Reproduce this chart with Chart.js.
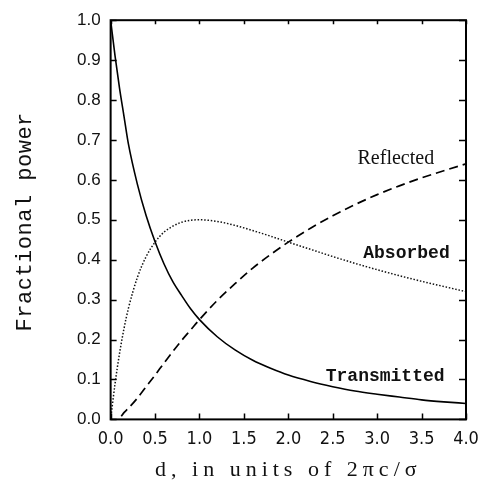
<!DOCTYPE html>
<html>
<head>
<meta charset="utf-8">
<script src="https://cdn.jsdelivr.net/npm/chart.js@4.4.0/dist/chart.umd.min.js"></script>
<style>
  html, body { margin: 0; padding: 0; background: #fff; }
</style>
</head>
<body>
<canvas id="grafica" width="483" height="489"></canvas>
<script>
// valores
const dVals = [0, 0.05, 0.1, 0.15, 0.2, 0.3, 0.4, 0.5, 0.6, 0.7, 0.8, 0.9, 1.0, 1.2, 1.4, 1.6, 1.8, 2.0, 2.25, 2.5, 2.75, 3.0, 3.25, 3.5, 3.75, 4.0];
const transmitted = [1.0, 0.91, 0.83, 0.76, 0.69, 0.59, 0.51, 0.445, 0.39, 0.345, 0.31, 0.277, 0.25, 0.207, 0.174, 0.148, 0.128, 0.111, 0.095, 0.082, 0.071, 0.063, 0.056, 0.049, 0.044, 0.04];
const absorbed = [0, 0.09, 0.165, 0.227, 0.278, 0.355, 0.408, 0.444, 0.469, 0.484, 0.494, 0.499, 0.5, 0.496, 0.486, 0.473, 0.459, 0.444, 0.426, 0.408, 0.391, 0.375, 0.36, 0.346, 0.333, 0.32];
const dReflected = [0.12, 0.15, 0.2, 0.3, 0.4, 0.5, 0.6, 0.7, 0.8, 0.9, 1.0, 1.2, 1.4, 1.6, 1.8, 2.0, 2.25, 2.5, 2.75, 3.0, 3.25, 3.5, 3.75, 4.0];
const reflected = [0.008, 0.017, 0.028, 0.053, 0.082, 0.111, 0.141, 0.17, 0.198, 0.224, 0.25, 0.298, 0.34, 0.379, 0.413, 0.444, 0.479, 0.51, 0.538, 0.563, 0.585, 0.605, 0.623, 0.64];

const xTicks = [0, 0.5, 1.0, 1.5, 2.0, 2.5, 3.0, 3.5, 4.0];
const yTicks = [0, 0.1, 0.2, 0.3, 0.4, 0.5, 0.6, 0.7, 0.8, 0.9, 1.0];

const xTitle = 'd, in units of 2\u03c0c/\u03c3';
const yTitle = 'Fractional power';

// etiquetas de las curvas (en unidades de datos)
const curveLabels = [
  { text: 'Reflected', x: 3.21, y: 0.654, font: '20px "Liberation Serif"' },
  { text: 'Absorbed', x: 3.33, y: 0.416, font: 'bold 18px "Liberation Mono"' },
  { text: 'Transmitted', x: 3.09, y: 0.108, font: 'bold 18px "Liberation Mono"' }
];

function pares(xs, ys) {
  return xs.map((v, i) => ({ x: v, y: ys[i] }));
}

const marcoPlugin = {
  id: 'marco',
  afterDatasetsDraw(chart) {
    const { ctx, chartArea: a, scales: { x, y } } = chart;
    ctx.save();
    ctx.strokeStyle = '#000';
    ctx.lineWidth = 1.5;
    xTicks.forEach(v => {
      const px = Math.round(x.getPixelForValue(v)) + 0.5;
      ctx.beginPath();
      ctx.moveTo(px, a.bottom); ctx.lineTo(px, a.bottom - 6);
      ctx.moveTo(px, a.top); ctx.lineTo(px, a.top + 4);
      ctx.stroke();
    });
    yTicks.forEach(v => {
      const py = Math.round(y.getPixelForValue(v)) + 0.5;
      ctx.beginPath();
      ctx.moveTo(a.left, py); ctx.lineTo(a.left + 6, py);
      ctx.moveTo(a.right, py); ctx.lineTo(a.right - 7, py);
      ctx.stroke();
    });
    ctx.lineWidth = 2;
    ctx.strokeRect(a.left, a.top, a.width, a.height);

    ctx.fillStyle = '#111';
    ctx.textAlign = 'center';
    ctx.textBaseline = 'middle';
    curveLabels.forEach(l => {
      ctx.font = l.font;
      ctx.fillText(l.text, x.getPixelForValue(l.x), y.getPixelForValue(l.y));
    });

    // titulos de los ejes
    ctx.font = '22px "Liberation Serif"';
    ctx.letterSpacing = '5px';
    ctx.fillText(xTitle, (a.left + a.right) / 2, 470);
    ctx.translate(25, (a.top + a.bottom) / 2 + 2);
    ctx.rotate(-Math.PI / 2);
    ctx.font = '22px "Liberation Mono"';
    ctx.letterSpacing = '0.5px';
    ctx.fillText(yTitle, 0, 0);
    ctx.restore();
  }
};

const ctx = document.getElementById('grafica').getContext('2d');
const chart = new Chart(ctx, {
  type: 'line',
  data: {
    datasets: [
      {
        label: 'Transmitted',
        data: pares(dVals, transmitted),
        borderColor: '#000',
        borderWidth: 1.6,
        pointRadius: 0,
        cubicInterpolationMode: 'monotone'
      },
      {
        label: 'Absorbed',
        data: pares(dVals, absorbed),
        borderColor: '#111',
        borderWidth: 1.5,
        borderDash: [1.5, 1.8],
        pointRadius: 0,
        cubicInterpolationMode: 'monotone'
      },
      {
        label: 'Reflected',
        data: pares(dReflected, reflected),
        borderColor: '#000',
        borderWidth: 1.7,
        borderDash: [9, 5],
        pointRadius: 0,
        cubicInterpolationMode: 'monotone'
      }
    ]
  },
  options: {
    responsive: false,
    animation: false,
    devicePixelRatio: 1,
    layout: { padding: { left: 67, right: 17, top: 12, bottom: 30 } },
    plugins: {
      legend: { display: false },
      tooltip: { enabled: false }
    },
    scales: {
      x: {
        type: 'linear',
        min: 0, max: 4,
        afterBuildTicks: s => { s.ticks = xTicks.map(v => ({ value: v })); },
        afterFit: s => { s.paddingRight = 0; },
        grid: { display: false, drawTicks: false },
        border: { display: false },
        ticks: {
          padding: 9,
          color: '#111',
          font: { family: '"Liberation Sans Narrow", "DejaVu Sans Condensed", sans-serif', size: 18 },
          callback: v => v.toFixed(1)
        }
      },
      y: {
        min: 0, max: 1,
        afterBuildTicks: s => { s.ticks = yTicks.map(v => ({ value: v })); },
        grid: { display: false, drawTicks: false },
        border: { display: false },
        ticks: {
          padding: 10,
          color: '#111',
          font: { family: '"Liberation Sans", sans-serif', size: 17 },
          callback: v => v.toFixed(1)
        }
      }
    }
  },
  plugins: [marcoPlugin]
});
</script>
</body>
</html>
